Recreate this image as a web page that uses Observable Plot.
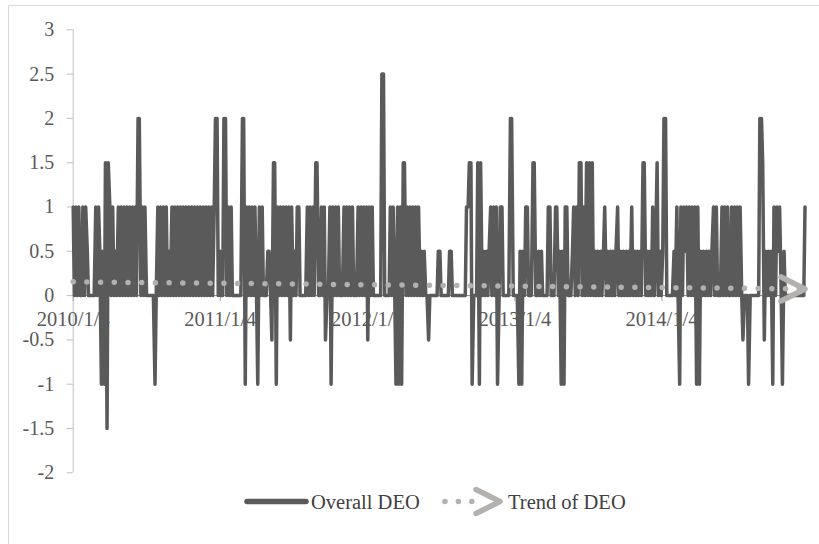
<!DOCTYPE html>
<html><head><meta charset="utf-8">
<script src="https://cdn.jsdelivr.net/npm/d3@7"></script>
<script src="https://cdn.jsdelivr.net/npm/@observablehq/plot@0.6"></script>
<style>
html,body{margin:0;padding:0;background:#fff;overflow:hidden;width:819px;height:544px}
#frame{position:absolute;left:8px;top:5px;width:840px;height:600px;border:1px solid #d9d9d9;box-sizing:border-box}
#chart{position:absolute;left:0;top:0}
#legend{position:absolute;left:0;top:480px}
</style></head><body>
<div id="frame"></div>
<div id="chart"></div>
<svg id="legend" width="819" height="64"></svg>
<script>
const seriesName = "Overall DEO";
const trendName = "Trend of DEO";
const startDate = "2010-01-04";
// twice-weekly readings (Mon / Thu), one array per year
const v2010 = [1,0,1,0,1,0,0,1,0,1, 0.5,0,0,0,0,0,1,0,1,0.5, -1,0.5,-1,1.5,-1.5,1.5,1,0,1,0, 0.5,0,1,0,1,0,1,0,1,0,
  1,0,1,0,1,0,2,2,0,1, 0,1,0,0,0,0,0,0,-1,0, 1,0,1,0,1,0,1,0,0.5,0, 1,0,1,0,1,0,1,0,1,0,
  1,0,1,0,1,0,1,0,1,0, 1,0,1,0,1,0,1,0,1,0, 1,2,2,0];
const v2011 = [0.5,0,0,2,2,0,1,0,1,0, 0,0,0,0,0,0,2,2,-1,1, 0,1,0,1,0,1,0,-1,1,0, 1,0,0,0,0.5,0.5,0,-0.5,1.5,1.5,
  -1,1,0,1,0,1,0,1,0,1, -0.5,1,0,0.5,0,1,1,0,0,0, 0,0,1,0,1,0,1,0,1.5,1.5, 0,0,1,0,1,-0.5,0,0,1,-1,
  1,0,1,0,1,0,0,0,1,0, 1,0,1,0,1,0,0,0,1,0, 1,0,1,0];
const v2012 = [1,-0.5,1,0,1,0,0,0,0,0, 0,2.5,2.5,0,0,0,0,1,0,1, 0,-1,1,-1,1,-1,1.5,1.5,0,1, 0,1,0,1,0,1,0,1,0,0.5,
  0,0.5,0,0,-0.5,0,0,0,0,0, 0,0.5,0.5,0,0,0,0,0,0,0.5, 0.5,0,0,0,0,0,0,0,0,0, 0,1,1,1.5,1.5,-1,0,0,0,1.5,
  -1,1.5,0,0.5,0,0.5,0,0.5,1,0, 1,0,1,-1,0,1,1,0,0,0, 0,0,2,2];
const v2013 = [0,0,0,0,-1,0.5,-1,0.5,0,1, 1,0,0,0,1.5,1.5,0,0,0.5,0, 0.5,0,0,0,0,1,1,0,0,0, 1,1,0,0.5,-1,0.5,-1,1,1,0,
  0,0,0.5,1,0,1,0,1.5,1.5,0, 1,0,1.5,0,1.5,0,1.5,0,0.5,0, 0.5,0,0.5,0,0.5,1,0,0.5,0,0.5, 0,0.5,0,0.5,1,0,0.5,0,0.5,0,
  0.5,0,0.5,0,1,0,0.5,0,0.5,0, 0.5,0,1.5,1.5,0,0.5,0,0.5,0,1, 0,0.5,1.5,0];
const v2014 = [0.5,0,0.5,2,2,0,0,0,0,0, 0.5,0,1,0,-1,1,0,1,0.5,1, 0,1,0,1,0,1,-1,1,-1,0.5, 0,0.5,0,0.5,0,0.5,0,0.5,1,0,
  1,0,0,0,1,0,1,0,1,0, 0,1,0,1,0,1,0,1,0,-0.5, 0,0,0,-1,0,0,0,0,0,0, 0,2,2,1.5,-0.5,0.5,0,0.5,0,0.5,
  -1,1,0,1,0.5,1,0,-1,0.5,0, 0,0,0,0,0,0,0,0,0,0, 0,0,0,1];
const tickLabels = ["2010/1/4","2011/1/4","2012/1/4","2013/1/4","2014/1/4"];
const yTicks = [-2,-1.5,-1,-0.5,0,0.5,1,1.5,2,2.5,3];
const trendValues = [0.155, 0.075]; // trend line at first and last date

const values = [...v2010, ...v2011, ...v2012, ...v2013, ...v2014];
const t0 = d3.utcParse("%Y-%m-%d")(startDate);
const data = values.map((v, i) => ({date: d3.utcDay.offset(t0, Math.floor(i / 2) * 7 + (i % 2) * 3), value: v}));
const trend = [
  {date: data[0].date, value: trendValues[0]},
  {date: data[data.length - 1].date, value: trendValues[1]}
];
const tickDates = tickLabels.map(d3.utcParse("%Y/%m/%d"));

const chevron = {
  draw(ctx, size) {
    const r = Math.sqrt(size / Math.PI);
    ctx.moveTo(-2 * r, -r);
    ctx.lineTo(0, 0);
    ctx.lineTo(-2 * r, r);
  }
};

const serif = "'Liberation Serif','Times New Roman',serif";
const trendColor = "#b3b0ad";
const lineColor = "#5a5a5a";

const plot = Plot.plot({
  width: 819, height: 480,
  marginLeft: 72.7, marginRight: 14.5, marginTop: 29.3, marginBottom: 7.7,
  x: {type: "utc", domain: [data[0].date, data[data.length - 1].date], axis: null},
  y: {domain: [yTicks[0], yTicks[yTicks.length - 1]], axis: null},
  style: {fontFamily: serif, fontSize: "20px", background: "transparent", color: "#595959", overflow: "visible"},
  marks: [
    Plot.ruleX([data[0].date], {stroke: "#bfbfbf", strokeWidth: 1}),
    Plot.axisY(yTicks, {tickFormat: d => String(d), tickSize: 6, tickPadding: 13, stroke: "#bfbfbf", fill: "#595959", fontSize: 20, label: null}),
    Plot.ruleY([0], {stroke: "#868686"}),
    Plot.ruleX(tickDates, {y1: 0, y2: 0, insetBottom: -6, stroke: "#a6a6a6"}),
    Plot.text(tickLabels, {x: (d, i) => tickDates[i], y: 0, dy: 24, text: d => d, fill: "#595959", fontSize: 20.5}),
    Plot.line(data, {x: "date", y: "value", stroke: lineColor, strokeWidth: 3.5, strokeLinejoin: "round", strokeLinecap: "round"}),
    Plot.line(trend, {x: "date", y: "value", stroke: trendColor, strokeWidth: 5.5, strokeDasharray: "0,13.7", strokeLinecap: "round"}),
    Plot.dot([trend[1]], {x: "date", y: "value", symbol: chevron, r: 12, fill: "none", stroke: trendColor, strokeWidth: 5.5, strokeLinecap: "round", strokeLinejoin: "round"})
  ]
});
document.getElementById("chart").appendChild(plot);

// legend
const lg = d3.select("#legend");
const ly = 21.5;
lg.append("line").attr("x1", 247).attr("x2", 306).attr("y1", ly).attr("y2", ly)
  .attr("stroke", lineColor).attr("stroke-width", 5.5).attr("stroke-linecap", "round");
lg.append("text").attr("x", 311).attr("y", ly).attr("dy", "0.35em")
  .attr("font-family", serif).attr("font-size", 20.5).attr("fill", "#404040").text(seriesName);
lg.append("line").attr("x1", 445).attr("x2", 473).attr("y1", ly).attr("y2", ly)
  .attr("stroke", trendColor).attr("stroke-width", 5.5).attr("stroke-linecap", "round").attr("stroke-dasharray", "0,13.4");
lg.append("path").attr("d", `M476,${ly - 12}L500,${ly}L476,${ly + 12}`)
  .attr("fill", "none").attr("stroke", trendColor).attr("stroke-width", 5.5)
  .attr("stroke-linecap", "round").attr("stroke-linejoin", "round");
lg.append("text").attr("x", 508).attr("y", ly).attr("dy", "0.35em")
  .attr("font-family", serif).attr("font-size", 20.5).attr("fill", "#404040").text(trendName);
</script></body></html>
